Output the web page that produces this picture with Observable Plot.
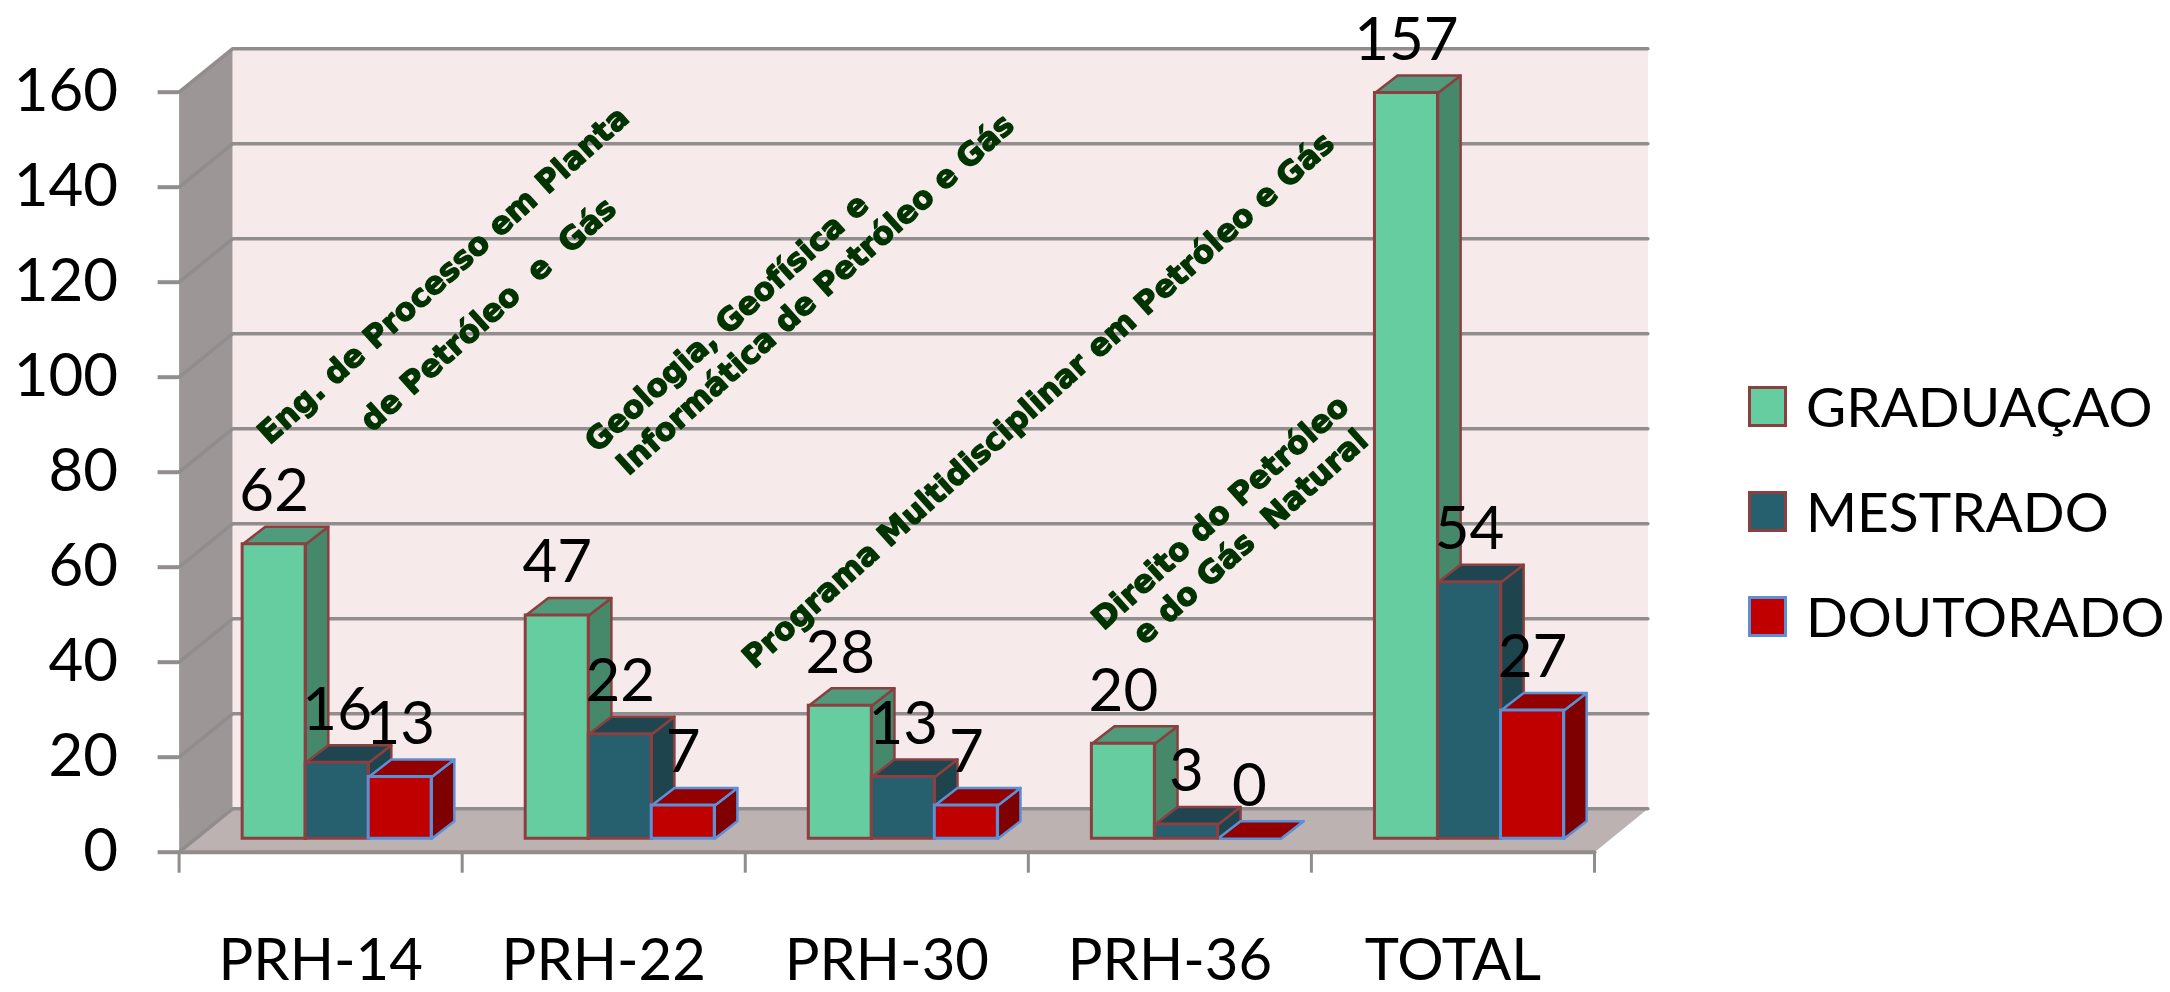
<!DOCTYPE html>
<html>
<head>
<meta charset="utf-8">
<script src="https://cdn.jsdelivr.net/npm/d3@7"></script>
<script src="https://cdn.jsdelivr.net/npm/@observablehq/plot@0.6"></script>
<style>
  html, body { margin: 0; padding: 0; background: #fff; }
  #root { position: relative; width: 2170px; height: 992px; overflow: hidden; }
  #root svg { filter: blur(0.6px); }
  #legend { position: absolute; left: 0; top: 0; font-family: Lato, sans-serif; font-size: 55px; color: #000; filter: blur(0.5px); }
  .row { position: absolute; left: 1748px; display: flex; align-items: center; white-space: nowrap; line-height: 1; }
  .sw { width: 33px; height: 35px; border-width: 3px; border-style: solid; margin-right: 19px; flex: none; }
</style>
</head>
<body>
<div id="root"></div>
<script>
const categories = ["PRH-14", "PRH-22", "PRH-30", "PRH-36", "TOTAL"];
const seriesNames = ["GRADUAÇAO", "MESTRADO", "DOUTORADO"];
const graduacao = [62, 47, 28, 20, 157];
const mestrado = [16, 22, 13, 3, 54];
const doutorado = [13, 7, 7, 0, 27];
const yTicks = [0, 20, 40, 60, 80, 100, 120, 140, 160];
const noteTexts = [
  "Eng. de Processo em Planta",
  "de Petróleo\u00a0\u00a0e\u00a0\u00a0Gás",
  "Geologia, Geofísica e",
  "Informática de Petróleo e Gás",
  "Programa Multidisciplinar em Petróleo e Gás",
  "Direito do Petróleo",
  "e do Gás\u00a0\u00a0Natural"
];
const noteX = [0.934, 1.093, 1.935, 2.248, 3.036, 3.679, 3.785];
const noteY = [121.4, 113.2, 111.4, 117.4, 95.1, 71.5, 66.3];

const seriesValues = [graduacao, mestrado, doutorado];
const faceColors = ["#66cda0", "#265f6e", "#c00000"];
const sideColors = ["#45896a", "#1e444d", "#7f0000"];
const topColors = ["#4f9b7b", "#1f4650", "#920000"];
const edgeColors = ["#8c3f40", "#8c3f40", "#5b90d6"];

// Depths of the fake 3-D box, in data units (categories on x, values on y).
const wallX = 0.1886, wallY = 9.14;
const planeX = wallX * 0.31, planeY = wallY * 0.31;
const depthX = 0.08, depthY = 3.7;
const gap = 0.166, barW = 0.2226;
const font = "Lato, sans-serif";
const GRID = "#918d8d";

const pt = (x, y, id) => ({x, y, id});
const poly = (pts, fill, stroke, strokeWidth) =>
  Plot.line(pts, {x: "x", y: "y", z: "id", curve: "linear-closed", fill, stroke: stroke ?? "none", strokeWidth: strokeWidth ?? 0});

const n = categories.length;
const bars = (s) => categories.map((c, i) => {
  const x1 = i + planeX + gap + s * barW, x2 = x1 + barW, v = seriesValues[s][i];
  return {c, v, x1, x2, xm: (x1 + x2) / 2, y1: planeY, y2: v + planeY};
});
const sideFaces = (s) => bars(s).flatMap((b, i) => [
  pt(b.x2, b.y1, i), pt(b.x2 + depthX, b.y1 + depthY, i), pt(b.x2 + depthX, b.y2 + depthY, i), pt(b.x2, b.y2, i)
]);
const topFaces = (s) => bars(s).flatMap((b, i) => [
  pt(b.x1, b.y2, i), pt(b.x1 + depthX, b.y2 + depthY, i), pt(b.x2 + depthX, b.y2 + depthY, i), pt(b.x2, b.y2, i)
]);
const gridPts = yTicks.flatMap((v) => [pt(0, v, v), pt(wallX, v + wallY, v), pt(n + wallX, v + wallY, v)]);
const backWall = [pt(wallX, wallY, 0), pt(n + wallX, wallY, 0), pt(n + wallX, 160 + wallY, 0), pt(wallX, 160 + wallY, 0)];
const leftWall = [pt(0, 0, 0), pt(wallX, wallY, 0), pt(wallX, 160 + wallY, 0), pt(0, 160, 0)];
const floor = [pt(0, 0, 0), pt(n, 0, 0), pt(n + wallX, wallY, 0), pt(wallX, wallY, 0)];

const marks = [
  poly(backWall, "#f6eaea"),
  poly(leftWall, "#9c9696"),
  poly(floor, "#bcb2b2"),
  Plot.line(gridPts, {x: "x", y: "y", z: "id", stroke: GRID, strokeWidth: 3.5}),
  Plot.line([pt(0, 0, 0), pt(n, 0, 0)], {x: "x", y: "y", stroke: GRID, strokeWidth: 4}),
  Plot.axisY({ticks: yTicks, tickSize: 21, tickPadding: 40, stroke: GRID, strokeWidth: 4, fontSize: 60, fontFamily: font, label: null}),
  Plot.axisX({ticks: d3.range(n + 1), tickSize: 21, stroke: GRID, strokeWidth: 3, tickFormat: () => "", label: null}),
  Plot.axisX({ticks: categories.map((c, i) => i + 0.5), tickSize: 0, tickPadding: 87, fontSize: 58, fontFamily: font,
    tickFormat: (d) => categories[Math.floor(d)], label: null})
];
seriesNames.forEach((name, s) => marks.push(poly(sideFaces(s), sideColors[s], edgeColors[s], 2.5)));
seriesNames.forEach((name, s) => marks.push(poly(topFaces(s), topColors[s], edgeColors[s], 2.5)));
seriesNames.forEach((name, s) => marks.push(
  Plot.rect(bars(s), {x1: "x1", x2: "x2", y1: "y1", y2: "y2", fill: faceColors[s], stroke: s === 2 ? edgeColors[s] : "#8c3f40", strokeWidth: 3})
));
seriesNames.forEach((name, s) => marks.push(
  Plot.text(bars(s), {x: "xm", y: "y2", text: (d) => String(d.v), lineAnchor: "bottom", dy: -33, fontSize: 60, fontFamily: font, fill: "#000"})
));
marks.push(Plot.text(noteTexts, {
  x: (d, i) => noteX[i], y: (d, i) => noteY[i], text: (d) => d, rotate: -42, fontSize: 31,
  fontFamily: "'DejaVu Sans', sans-serif", fontWeight: "bold", fill: "#003300", stroke: "#003300", strokeWidth: 1.4
}));

const chart = Plot.plot({
  width: 2170,
  height: 992,
  marginLeft: 178.6,
  marginRight: 576,
  marginTop: 91.7,
  marginBottom: 140.3,
  x: {type: "linear", domain: [0, n]},
  y: {type: "linear", domain: [0, 160]},
  style: {background: "transparent", overflow: "visible"},
  marks
});
const root = document.getElementById("root");
root.appendChild(chart);

const legend = document.createElement("div");
legend.id = "legend";
const legendTops = [379, 484, 589];
seriesNames.forEach((name, s) => {
  const row = document.createElement("div");
  row.className = "row";
  row.style.top = legendTops[s] + "px";
  const sw = document.createElement("span");
  sw.className = "sw";
  sw.style.background = faceColors[s];
  sw.style.borderColor = edgeColors[s];
  row.appendChild(sw);
  row.appendChild(document.createTextNode(name));
  legend.appendChild(row);
});
root.appendChild(legend);
</script>
</body>
</html>
